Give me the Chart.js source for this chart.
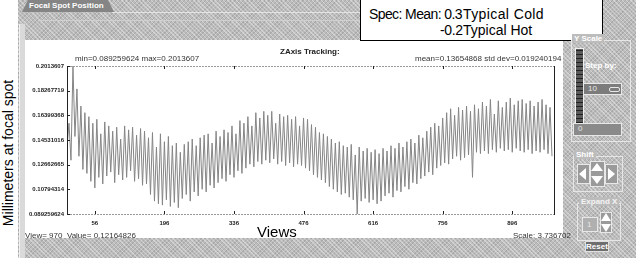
<!DOCTYPE html>
<html>
<head>
<meta charset="utf-8">
<script src="https://cdn.jsdelivr.net/npm/chart.js@4"></script>
<style>
  body { margin: 0; background: #fff; font-family: "Liberation Sans", Arial, sans-serif; }
  #page { position: relative; width: 636px; height: 258px; overflow: hidden; background: #fff; }
  .gray {
    position: absolute; left: 18px; top: 0; width: 618px; height: 258px;
    background-color: #bcbcbc;
    background-image:
      repeating-linear-gradient(45deg, rgba(255,255,255,.35) 0 1px, transparent 1px 3px),
      repeating-linear-gradient(-45deg, rgba(0,0,0,.10) 0 1px, transparent 1px 3px);
  }
  .abs { position: absolute; }
  .tab {
    left: 22px; top: 0; width: 92px; height: 12px; background: #858585;
    clip-path: polygon(6px 0, 86px 0, 92px 12px, 0 12px);
    color: #fff; font: bold 8px "Liberation Sans", Arial, sans-serif; line-height: 12px;
    padding-left: 7px; box-sizing: border-box; white-space: nowrap;
  }
  .hl { height: 1px; background: #e4e4e4; }
  .strip { left: 19px; top: 24px; width: 5px; height: 234px; background: #dadada; border-left: 1px solid #f2f2f2; }
  .panel { left: 25px; top: 40px; width: 538px; height: 198px; background: #fff; }
  .spec {
    left: 360px; top: -1px; width: 241px; height: 40px; background: #fff; border: 1px solid #000;
    font: 14px "Liberation Sans", Arial, sans-serif; color: #000;
  }
  .small { font: 8px "Liberation Sans", Arial, sans-serif; color: #333; white-space: nowrap; }
  .ylab {
    left: 8px; top: 153px; transform: translate(-50%, -50%) rotate(-90deg);
    font: 14px "Liberation Sans", Arial, sans-serif; color: #000; white-space: nowrap;
  }
  .wt { color: #fff; font: bold 8px "Liberation Sans", Arial, sans-serif; white-space: nowrap; }
  .grp { border: 1px solid #e6e6e6; }
  .box { background: #7c7c7c; border: 1px solid #e8e8e8; color: #e8e8e8; font: 8px "Liberation Sans", Arial, sans-serif; box-sizing: border-box; padding-left: 4px; line-height: 10px; }
  .arrow { width: 0; height: 0; border-style: solid; }
</style>
</head>
<body>
<div id="page">
  <div class="gray"></div>
  <div class="abs tab">Focal Spot Position</div>
  <div class="abs hl" style="left:112px; top:12px; width:250px;"></div>
  <div class="abs hl" style="left:38px; top:20px; width:322px; background:#d0d0d0;"></div>
  <div class="abs strip"></div>
  <div class="abs panel"></div>

  <div class="abs spec">
    <div class="abs" style="left:8px; top:6px; letter-spacing:-0.6px;">Spec: Mean: 0.3</div>
    <div class="abs" style="left:102px; top:6px; letter-spacing:0.4px;">Typical Cold</div>
    <div class="abs" style="left:79px; top:22px; letter-spacing:-0.4px;">-0.2</div>
    <div class="abs" style="left:102px; top:22px;">Typical Hot</div>
  </div>

  <div class="abs ylab">Millimeters at focal spot</div>

  <div class="abs" style="left:25px; top:40px; width:538px; height:198px;">
    <canvas id="myChart" width="538" height="198"></canvas>
  </div>

  <div class="abs" style="left:280px; top:47px; font: bold 8px 'Liberation Sans', Arial, sans-serif; color:#222;">ZAxis Tracking:</div>
  <div class="abs small" style="left:75px; top:54px;">min=0.089259624 max=0.2013607</div>
  <div class="abs small" style="left:415px; top:54px;">mean=0.13654868 std dev=0.019240194</div>
  <div class="abs small" style="left:25px; top:231px;">View= 970 &nbsp;Value= 0.12164826</div>
  <div class="abs small" style="left:513px; top:231px;">Scale: 3.736702</div>
  <div class="abs" style="left:257px; top:223px; font: 15px 'Liberation Sans', Arial, sans-serif; color:#000;">Views</div>

  <!-- right controls -->
  <div class="abs grp" style="left:571px; top:40px; width:58px; height:100px;"></div>
  <div class="abs wt" style="left:572px; top:34px; background:#bcbcbc; padding:0 2px;">Y Scale</div>
  <div class="abs" style="left:575px; top:48px; width:7px; height:74px; background:#5a5a5a; border:1px solid #f0f0f0;
       background-image: repeating-linear-gradient(0deg, #222 0 1px, transparent 1px 4px);"></div>
  <div class="abs wt" style="left:585px; top:61px;">Step by:</div>
  <div class="abs box" style="left:583px; top:83px; width:39px; height:12px;">10</div>
  <div class="abs" style="left:609px; top:87px; width:9px; height:3px; border:1px solid #e8e8e8; border-radius:2px;"></div>
  <div class="abs box" style="left:573px; top:123px; width:49px; height:13px; background:#8a8a8a;">0</div>

  <div class="abs grp" style="left:573px; top:156px; width:48px; height:34px;"></div>
  <div class="abs wt" style="left:574px; top:150px; background:#bcbcbc; padding:0 2px;">Shift</div>
  <div class="abs" style="left:577px; top:164px; width:13px; height:20px; background:#9a9a9a; border:1px solid #e8e8e8; box-sizing:border-box;"></div>
  <div class="abs arrow" style="left:579px; top:168px; border-width:6px 7px 6px 0; border-color:transparent #fff transparent transparent;"></div>
  <div class="abs" style="left:590px; top:161px; width:15px; height:26px; background:#9a9a9a; border:1px solid #e8e8e8; box-sizing:border-box;"></div>
  <div class="abs arrow" style="left:591px; top:163px; border-width:0 6px 8px 6px; border-color:transparent transparent #fff transparent;"></div>
  <div class="abs arrow" style="left:591px; top:176px; border-width:8px 6px 0 6px; border-color:#fff transparent transparent transparent;"></div>
  <div class="abs" style="left:605px; top:164px; width:13px; height:20px; background:#9a9a9a; border:1px solid #e8e8e8; box-sizing:border-box;"></div>
  <div class="abs arrow" style="left:608px; top:168px; border-width:6px 0 6px 7px; border-color:transparent transparent transparent #fff;"></div>

  <div class="abs grp" style="left:577px; top:203px; width:42px; height:36px;"></div>
  <div class="abs wt" style="left:579px; top:197px; background:#bcbcbc; padding:0 2px; color:#f4f4f4;">Expand X</div>
  <div class="abs box" style="left:582px; top:217px; width:16px; height:15px; background:#b0b0b0; line-height:13px;">1</div>
  <div class="abs" style="left:600px; top:212px; width:12px; height:21px; background:#9a9a9a; border:1px solid #e8e8e8; box-sizing:border-box;"></div>
  <div class="abs arrow" style="left:601px; top:213px; border-width:0 5px 8px 5px; border-color:transparent transparent #fff transparent;"></div>
  <div class="abs arrow" style="left:601px; top:224px; border-width:8px 5px 0 5px; border-color:#fff transparent transparent transparent;"></div>
  <div class="abs" style="left:585px; top:241px; width:24px; height:11px; background:#6e6e6e; border:1px solid #e0e0e0; box-sizing:border-box;
       color:#fff; font: bold 8px 'Liberation Sans', Arial, sans-serif; line-height:9px; text-align:center;">Reset</div>
</div>

<script>
// Z axis position (mm) sampled every 4 views
const VIEW_STEP = 4;
const zValues = [
  0.140, 0.158, 0.130, 0.2013607, 0.148, 0.184, 0.133, 0.171, 0.123, 0.166,
  0.120, 0.163, 0.114, 0.158, 0.109, 0.161, 0.117, 0.150, 0.112, 0.159,
  0.118, 0.156, 0.121, 0.152, 0.113, 0.155, 0.119, 0.146, 0.115, 0.156,
  0.117, 0.153, 0.122, 0.155, 0.114, 0.149, 0.116, 0.154, 0.111, 0.152,
  0.112, 0.147, 0.104, 0.151, 0.099, 0.140, 0.097, 0.150, 0.096, 0.144,
  0.100, 0.148, 0.095, 0.141, 0.098, 0.143, 0.094, 0.136, 0.101, 0.142,
  0.104, 0.144, 0.099, 0.146, 0.106, 0.141, 0.103, 0.147, 0.108, 0.149,
  0.106, 0.150, 0.111, 0.143, 0.109, 0.152, 0.113, 0.148, 0.116, 0.153,
  0.114, 0.151, 0.119, 0.156, 0.117, 0.150, 0.122, 0.160, 0.120, 0.158,
  0.124, 0.163, 0.127, 0.156, 0.125, 0.166, 0.129, 0.162, 0.127, 0.167,
  0.130, 0.164, 0.128, 0.167, 0.131, 0.158, 0.127, 0.165, 0.129, 0.163,
  0.126, 0.164, 0.128, 0.161, 0.125, 0.163, 0.127, 0.156, 0.126, 0.162,
  0.124, 0.161, 0.122, 0.157, 0.119, 0.155, 0.117, 0.151, 0.115, 0.150,
  0.113, 0.148, 0.110, 0.146, 0.108, 0.143, 0.106, 0.144, 0.104, 0.141,
  0.105, 0.140, 0.102, 0.142, 0.100, 0.134, 0.089259624, 0.140, 0.099, 0.137,
  0.101, 0.139, 0.098, 0.136, 0.100, 0.138, 0.097, 0.135, 0.099, 0.139,
  0.103, 0.137, 0.105, 0.141, 0.102, 0.139, 0.107, 0.143, 0.106, 0.140,
  0.110, 0.144, 0.108, 0.146, 0.113, 0.143, 0.112, 0.149, 0.116, 0.147,
  0.118, 0.152, 0.121, 0.155, 0.119, 0.158, 0.124, 0.156, 0.126, 0.162,
  0.128, 0.166, 0.127, 0.169, 0.131, 0.164, 0.133, 0.170, 0.130, 0.168,
  0.132, 0.171, 0.134, 0.167, 0.117, 0.172, 0.136, 0.169, 0.135, 0.174,
  0.137, 0.171, 0.135, 0.176, 0.138, 0.165, 0.136, 0.175, 0.139, 0.170,
  0.137, 0.174, 0.138, 0.177, 0.136, 0.172, 0.139, 0.175, 0.137, 0.176,
  0.136, 0.173, 0.138, 0.175, 0.135, 0.171, 0.137, 0.174, 0.136, 0.176,
  0.138, 0.172, 0.135, 0.170, 0.133
];
const xTicks = [56, 196, 336, 476, 616, 756, 896];
const yTicks = [0.089259624, 0.10794314, 0.12662665, 0.14531016, 0.16399368, 0.18267719, 0.2013607];
const yTickLabels = ['0.089259624', '0.10794314', '0.12662665', '0.14531016', '0.16399368', '0.18267719', '0.2013607'];
const xMin = 0, xMax = 980;

const points = zValues.map((v, i) => ({ x: i * VIEW_STEP, y: v }));

// frame with inward ticks, like the original plot
const framePlugin = {
  id: 'frame',
  afterDatasetsDraw(chart) {
    const { ctx, chartArea: a, scales } = chart;
    ctx.save();
    ctx.lineWidth = 1;
    ctx.strokeStyle = '#999';
    ctx.setLineDash([2, 1]);
    ctx.beginPath();
    ctx.moveTo(a.left, a.top + 0.5); ctx.lineTo(a.right, a.top + 0.5);
    ctx.moveTo(a.left, a.bottom + 0.5); ctx.lineTo(a.right, a.bottom + 0.5);
    ctx.stroke();
    ctx.setLineDash([]);
    ctx.strokeStyle = '#222';
    ctx.beginPath();
    ctx.moveTo(a.left + 0.5, a.top); ctx.lineTo(a.left + 0.5, a.bottom + 1);
    ctx.moveTo(a.right + 0.5, a.top); ctx.lineTo(a.right + 0.5, a.bottom + 1);
    xTicks.forEach(t => {
      const px = Math.round(scales.x.getPixelForValue(t)) + 0.5;
      ctx.moveTo(px, a.top); ctx.lineTo(px, a.top + 3);
      ctx.moveTo(px, a.bottom); ctx.lineTo(px, a.bottom - 3);
    });
    yTicks.forEach(t => {
      const py = Math.round(scales.y.getPixelForValue(t)) + 0.5;
      ctx.moveTo(a.left, py); ctx.lineTo(a.left + 3, py);
    });
    ctx.stroke();
    ctx.restore();
  }
};

const tickFont = { family: "'Liberation Sans Narrow', 'Liberation Sans', sans-serif", size: 6, weight: 'bold' };

new Chart(document.getElementById('myChart'), {
  type: 'line',
  data: {
    datasets: [{
      data: points,
      borderColor: '#858585',
      borderWidth: 1,
      pointRadius: 0,
      tension: 0
    }]
  },
  options: {
    responsive: false,
    animation: false,
    layout: { padding: { left: 0, top: 26, right: 9, bottom: 0 } },
    plugins: { legend: { display: false }, tooltip: { enabled: false } },
    scales: {
      x: {
        type: 'linear', min: xMin, max: xMax,
        afterBuildTicks: s => { s.ticks = xTicks.map(v => ({ value: v })); },
        afterFit: s => { s.height = 24; },
        grid: { display: false, drawTicks: false }, border: { display: false },
        ticks: { font: tickFont, color: '#222', padding: 6, maxRotation: 0, autoSkip: false,
                 callback: v => String(v) }
      },
      y: {
        type: 'linear', min: yTicks[0], max: yTicks[yTicks.length - 1],
        afterBuildTicks: s => { s.ticks = yTicks.map(v => ({ value: v })); },
        afterFit: s => { s.width = 42; },
        grid: { display: false, drawTicks: false }, border: { display: false },
        ticks: { font: tickFont, color: '#222', padding: 3, autoSkip: false,
                 callback: (v, i) => yTickLabels[i] }
      }
    }
  },
  plugins: [framePlugin]
});
</script>
</body>
</html>
